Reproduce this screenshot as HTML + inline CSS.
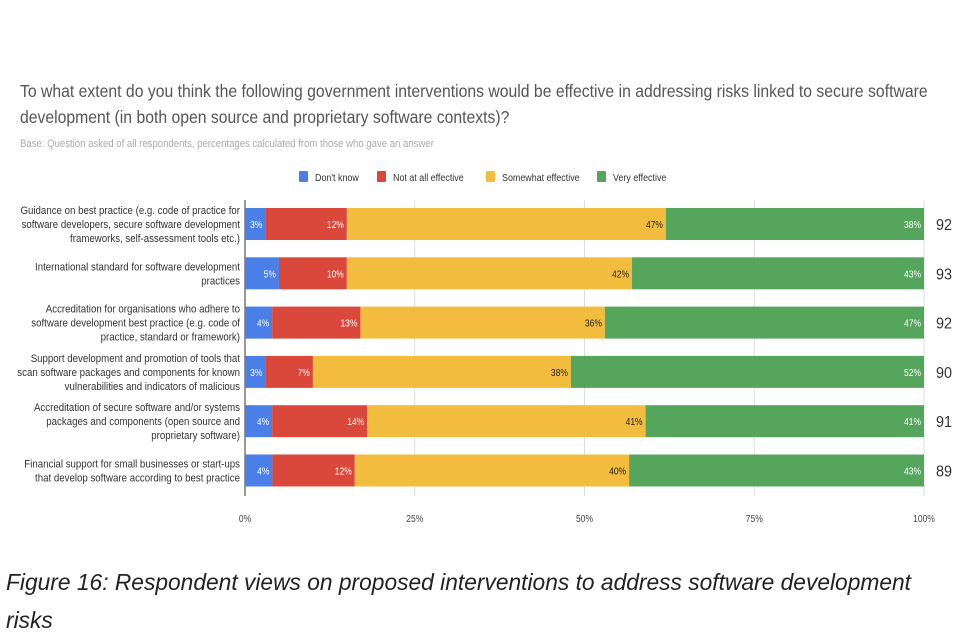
<!DOCTYPE html>
<html><head><meta charset="utf-8"><style>
body{margin:0;width:960px;height:640px;background:#fff;font-family:"Liberation Sans",sans-serif;overflow:hidden;position:relative}
.t{position:absolute;white-space:nowrap}
</style></head><body>
<div class="t" style="left:20px;top:78px;font-size:17.5px;color:#555;line-height:26px;transform:scaleX(0.90);transform-origin:0 0">To what extent do you think the following government interventions would be effective in addressing risks linked to secure software<br>development (in both open source and proprietary software contexts)?</div>
<div class="t" style="left:20px;top:138px;font-size:11px;color:#aaa;transform:scaleX(0.87);transform-origin:0 0">Base: Question asked of all respondents, percentages calculated from those who gave an answer</div>
<svg id="c" width="960" height="640" style="position:absolute;left:0;top:0"></svg>
<div class="t" style="left:6px;top:563px;font-size:23px;font-style:italic;color:#222;line-height:38px;transform:scaleX(0.99);transform-origin:0 0">Figure 16: Respondent views on proposed interventions to address software development<br>risks</div>
<script>
const categories=[
["Guidance on best practice (e.g. code of practice for","software developers, secure software development","frameworks, self-assessment tools etc.)"],
["International standard for software development","practices"],
["Accreditation for organisations who adhere to","software development best practice (e.g. code of","practice, standard or framework)"],
["Support development and promotion of tools that","scan software packages and components for known","vulnerabilities and indicators of malicious"],
["Accreditation of secure software and/or systems","packages and components (open source and","proprietary software)"],
["Financial support for small businesses or start-ups","that develop software according to best practice"]];
const seriesNames=["Don't know","Not at all effective","Somewhat effective","Very effective"];
const dontKnow=[3,5,4,3,4,4];
const notEffective=[12,10,13,7,14,12];
const somewhat=[47,42,36,38,41,40];
const very=[38,43,47,52,41,43];
const baseN=[92,93,92,90,91,89];
const ticks=[0,25,50,75,100];
const colors=["#4a7fe8","#d9483b","#f2bd3f","#55a55c"];
const textCol=["#fff","#fff","#222","#fff"];
const svg=document.getElementById('c');const NS="http://www.w3.org/2000/svg";
const x0=245,x1=924,y0=224,step=49.3,bh=32,SX=0.85;
const xs=v=>x0+(x1-x0)*v/100, yc=i=>y0+i*step;
function el(t,a,txt){const e=document.createElementNS(NS,t);for(const k in a)e.setAttribute(k,a[k]);if(txt!=null)e.textContent=txt;svg.appendChild(e);return e;}
function tx(x,y,a,txt,sx){a.x=0;a.y=0;a.transform='translate('+x+','+y+') scale('+(sx||SX)+',1)';return el('text',a,txt);}
ticks.forEach(t=>{const g=el('line',{x1:xs(t),x2:xs(t),y1:200,y2:496,stroke:t==0?'#333':'#ddd','stroke-width':1});

const l=tx(xs(t),522,{'font-size':10,fill:'#444','text-anchor':'middle'},t+'%');
});
const lx=[299,377,486,597];
seriesNames.forEach((n,i)=>{const r=el('rect',{x:lx[i],y:171,width:9,height:11,rx:1,fill:colors[i]});

const t=tx(lx[i]+16,181,{'font-size':10.5,fill:'#333'},n);
});
const series=[dontKnow,notEffective,somewhat,very];
categories.forEach((c,i)=>{
 const tot=series.reduce((s,a)=>s+a[i],0);let acc=0;const cy=yc(i);
 series.forEach((a,j)=>{const v=a[i]/tot*100;const xa=xs(acc),xb=xs(acc+v);acc+=v;
  const r=el('rect',{x:xa,y:cy-bh/2,width:xb-xa,height:bh,fill:colors[j]});
  
  const t=tx(xb-3,cy+4,{'font-size':10,fill:textCol[j],'text-anchor':'end'},a[i]+'%');
  });
 const n=c.length;
 c.forEach((line,k)=>{const t=tx(240,cy+4+(k-(n-1)/2)*14,{'font-size':11,fill:'#333','text-anchor':'end'},line,0.88);
  });
 const b=tx(936,cy+6,{'font-size':16,fill:'#333'},baseN[i],0.9);
 
});
</script>
</body></html>
